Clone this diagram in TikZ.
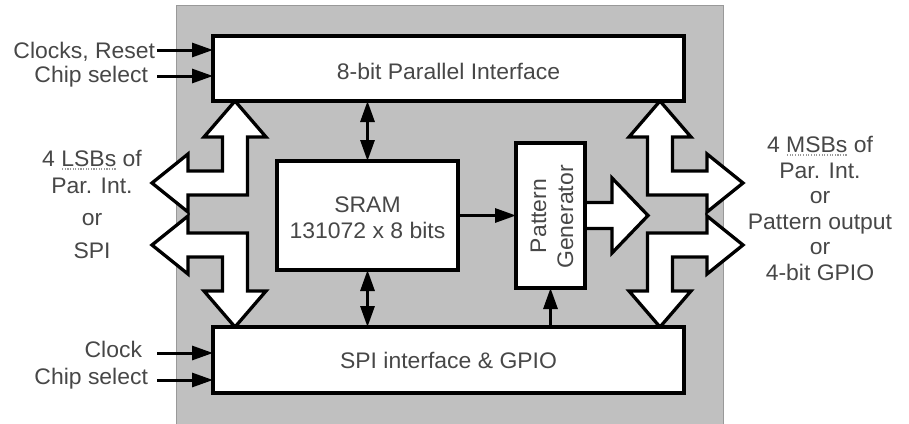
\documentclass[tikz,border=0pt]{standalone}
\usepackage{fontspec}
\setmainfont{Liberation Sans}[FakeStretch=1.02]
\usetikzlibrary{arrows.meta,calc}
\definecolor{bgray}{RGB}{192,192,192}
\newsavebox\sqbox
\newcommand\sqg[1]{\sbox\sqbox{#1}\rlap{\raisebox{-3.5pt}{\color{black!40}\hbox to \wd\sqbox{\xleaders\hbox to 2.6pt{\hss\rule{1.2pt}{1.2pt}\hss}\hfill}}}\usebox\sqbox}
\newcommand\busarrow[1]{\begin{scope}[#1]\filldraw[bus] (0,0) -- (31,36) -- (12.5,36) -- (12.5,94) -- (-47,94) -- (-47,111) -- (-83,82) -- (-47,53) -- (-47,70) -- (-12.5,70) -- (-12.5,36) -- (-31,36) -- cycle;\end{scope}}
\begin{document}
\begin{tikzpicture}[x=1pt,y=-1pt,
  txt/.style={text=black!72, font=\fontsize{22.5}{26}\selectfont, inner sep=0pt, outer sep=0pt},
  box/.style={draw=black, line width=3.3pt, fill=white, inner sep=0pt, outer sep=0pt},
  sarr/.style={line width=3pt, -{Triangle[length=21pt,width=14pt]}},
  darr/.style={line width=3pt, {Triangle[length=21pt,width=14pt]}-{Triangle[length=21pt,width=14pt]}},
  bus/.style={draw=black, fill=white, line width=3.3pt, line join=miter}
]
\useasboundingbox (0,0) rectangle (909,423);
\fill[white] (0,0) rectangle (909,423);
\filldraw[fill=bgray, draw=black!40, line width=1pt] (176,5) rectangle (723,430);

% node geometry (boxes drawn after bus arrows)
\path (448.5,68.5) node[minimum width=471pt, minimum height=65pt, inner sep=0pt, outer sep=0pt] (par0) {};
\path (448.5,360) node[minimum width=471pt, minimum height=66pt, inner sep=0pt, outer sep=0pt] (spi0) {};
\coordinate (ulT) at ($(par0.south west)+(22,0)$);
\coordinate (urT) at ($(par0.south east)+(-24,0)$);
\coordinate (llT) at ($(spi0.north west)+(22,0)$);
\coordinate (lrT) at ($(spi0.north east)+(-24,0)$);

% wide bus arrows
\busarrow{shift={(ulT)}}
\busarrow{shift={(llT)}, yscale=-1}
\busarrow{shift={(urT)}, xscale=-1}
\busarrow{shift={(lrT)}, xscale=-1, yscale=-1}

% blocks
\node[box, minimum width=471pt, minimum height=65pt] (par) at (448.5,68.5) {};
\node[box, minimum width=471pt, minimum height=66pt] (spi) at (448.5,360) {};
\node[box, minimum width=181pt, minimum height=109pt] (sram) at (367.5,215.5) {};
\node[box, minimum width=69pt, minimum height=145pt] (pat) at (550.5,215.5) {};

% pattern output arrow
\filldraw[bus] ($(pat.east)+(0,-13)$) -- ++(27,0) -- ++(0,-24.5) -- ++(36,37.5) -- ++(-36,37.5) -- ++(0,-24.5) -- ++(-27,0);
\draw[box, fill=none] (pat.north west) rectangle (pat.south east);

% block texts
\node[txt, anchor=base] (partxt) at (448.5,79) {8-bit Parallel Interface};
\node[txt, anchor=base] (spitxt) at (448.5,368) {SPI interface \& GPIO};
\node[txt, anchor=base] (sramA) at (367.5,212) {SRAM};
\node[txt, anchor=base] (sramB) at (367.5,238) {131072 x 8 bits};
\node[txt, anchor=base, rotate=90] (patA) at (546,216) {Pattern};
\node[txt, anchor=base, rotate=90] (patB) at (573,217) {Generator};

% internal connectors
\draw[darr] (sram.north |- par.south) -- (sram.north);
\draw[darr] (sram.south) -- (sram.south |- spi.north);
\draw[sarr] (sram.east) -- (pat.west |- sram.east);
\draw[sarr] (pat.south |- spi.north) -- (pat.south);

% input signals
\node[txt, anchor=base east] (clkr) at (155,58) {Clocks, Reset};
\node[txt, anchor=base east] (cs1) at (148,82) {Chip select};
\node[txt, anchor=base east] (clk) at (142,357) {Clock};
\node[txt, anchor=base east] (cs2) at (148,384) {Chip select};
\coordinate (i1) at (157,50);
\coordinate (i2) at (157,76);
\coordinate (i3) at (157,353);
\coordinate (i4) at (157,380);
\draw[sarr] (i1) -- (i1 -| par.west);
\draw[sarr] (i2) -- (i2 -| par.west);
\draw[sarr] (i3) -- (i3 -| spi.west);
\draw[sarr] (i4) -- (i4 -| spi.west);

% left label
\node[txt, anchor=base] (l1) at (92,166) {4 \sqg{LSBs} of};
\node[txt, anchor=base] (l2) at (92,193) {Par. Int.};
\node[txt, anchor=base] (l3) at (92,225) {or};
\node[txt, anchor=base] (l4) at (92,258) {SPI};

% right label
\node[txt, anchor=base] (r1) at (820,152) {4 \sqg{MSBs} of};
\node[txt, anchor=base] (r2) at (820,178) {Par. Int.};
\node[txt, anchor=base] (r3) at (820,203) {or};
\node[txt, anchor=base] (r4) at (820,229) {Pattern output};
\node[txt, anchor=base] (r5) at (820,254) {or};
\node[txt, anchor=base] (r6) at (820,280) {4-bit GPIO};
\end{tikzpicture}
\end{document}
